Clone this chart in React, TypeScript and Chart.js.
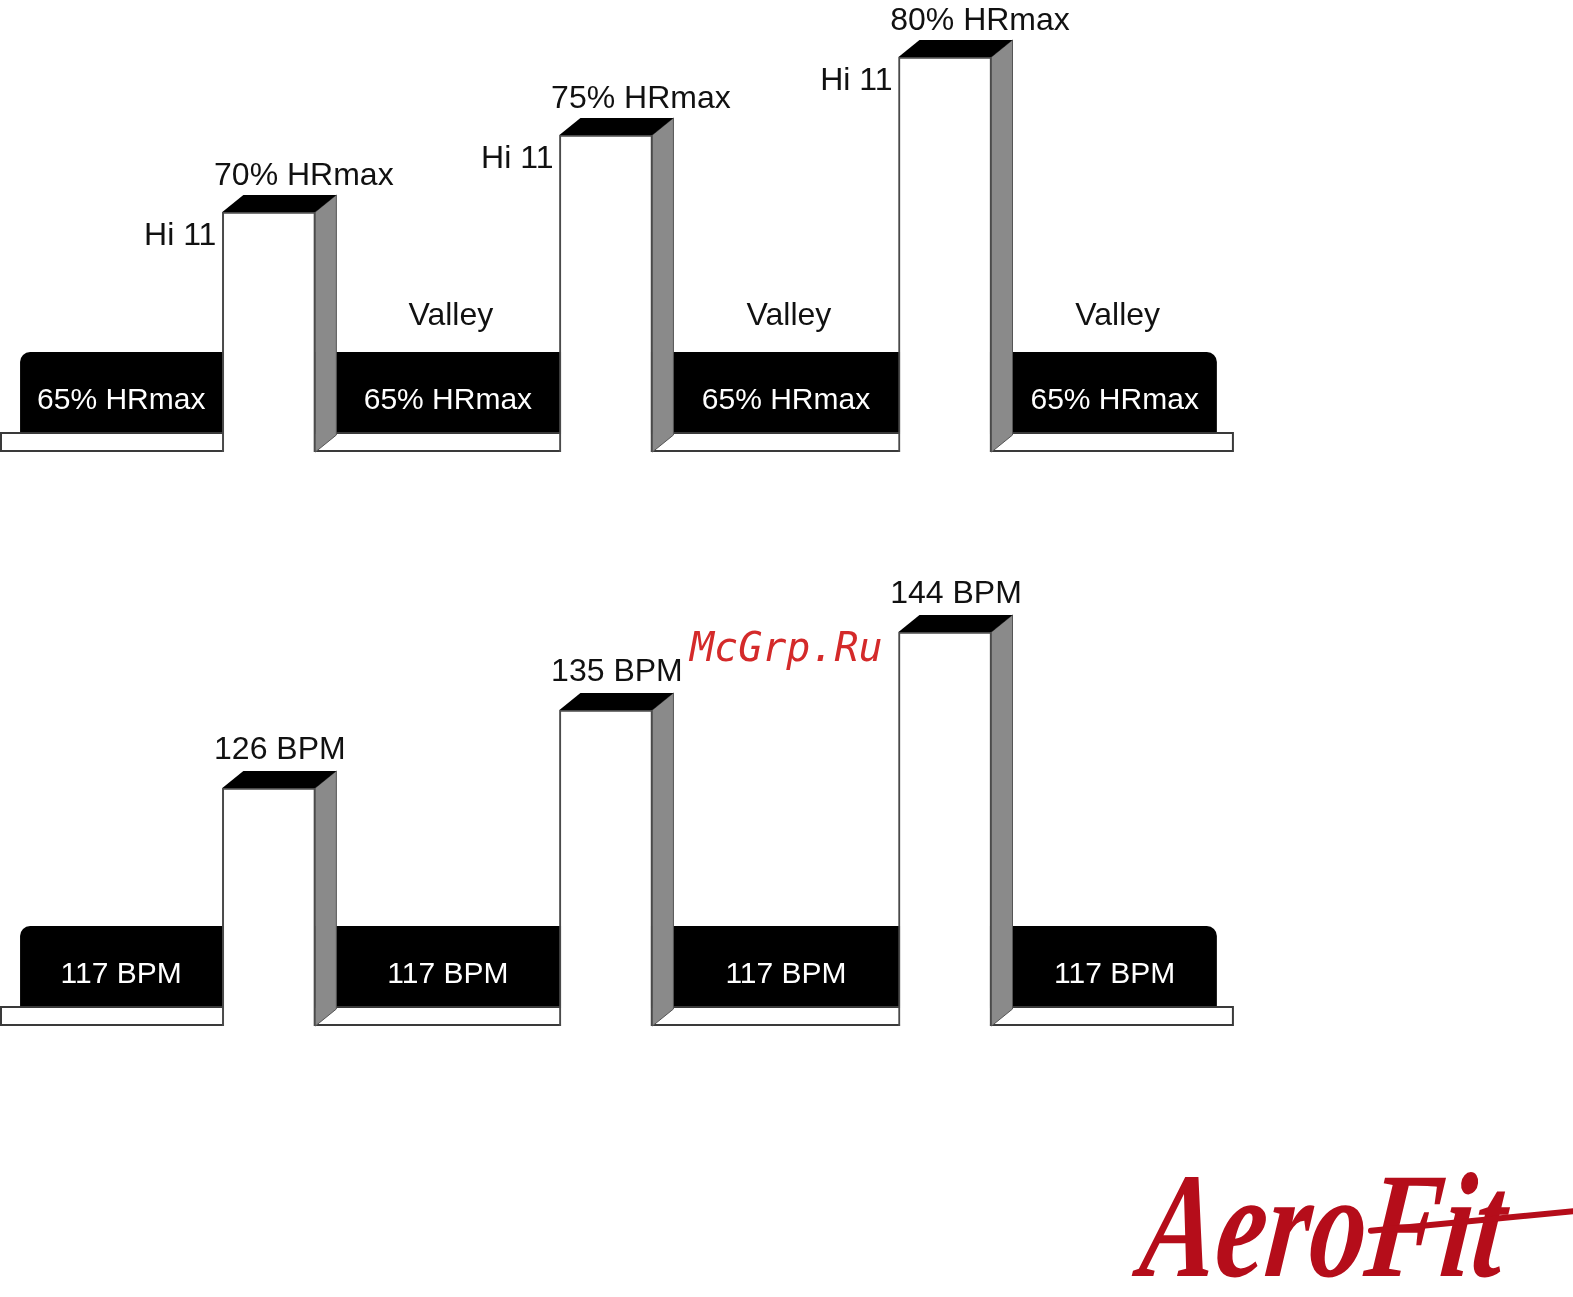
import React, { useEffect, useRef } from 'react';
import { Chart, registerables } from 'chart.js';

Chart.register(...registerables);

// ---- data (x in timeline units, y in intensity-level units) ----
const peakCenters = [268, 604, 942];
const valleyFrom = [20, 300, 636, 975];
const valleyTo = [245, 580, 918, 1213];
const plateFrom = 1;
const plateTo = 1229;
const plateLevel = 20;
const valleyLevel = 100;

const topPeakLevels = [240, 317, 395];
const topPeakLabels = ['70% HRmax', '75% HRmax', '80% HRmax'];
const topSideLabels = ['Hi 11', 'Hi 11', 'Hi 11'];
const topValleyTitles = ['', 'Valley', 'Valley', 'Valley'];
const topValleyLabels = ['65% HRmax', '65% HRmax', '65% HRmax', '65% HRmax'];

const bottomPeakLevels = [238, 316, 394];
const bottomPeakLabels = ['126 BPM', '135 BPM', '144 BPM'];
const bottomSideLabels = ['', '', ''];
const bottomValleyTitles = ['', '', '', ''];
const bottomValleyLabels = ['117 BPM', '117 BPM', '117 BPM', '117 BPM'];

type PanelCfg = {
  peakLevels: number[];
  peakLabels: string[];
  sideLabels: string[];
  valleyTitles: string[];
  valleyLabels: string[];
  peakLabelShift: number;
  peakLabelGap: number;
};

const DX = 21;
const DY = 17;
const FONT_BLACK = '32px "Liberation Sans", Arial, sans-serif';
const FONT_WHITE = '30px "Liberation Sans", Arial, sans-serif';

function makePlugin(cfg: PanelCfg) {
  const barBoxes = (chart: any) =>
    chart.getDatasetMeta(0).data.map((el: any) => {
      const p = el.getProps(['x', 'y', 'base', 'width'], true);
      return { left: p.x - p.width / 2, right: p.x + p.width / 2, top: p.y, base: p.base, cx: p.x };
    });
  return {
    id: 'panel3d',
    beforeDatasetsDraw(chart: any) {
      const { ctx, scales } = chart;
      const x = scales.x, y = scales.y;
      const p0 = x.getPixelForValue(plateFrom);
      const p1 = x.getPixelForValue(plateTo);
      const yb = y.getPixelForValue(0);
      const yt = y.getPixelForValue(plateLevel);
      const yv = y.getPixelForValue(valleyLevel);
      ctx.save();
      ctx.fillStyle = '#ffffff';
      ctx.fillRect(p0, yt, p1 - p0, yb - yt);
      ctx.strokeStyle = '#3a3a3a';
      ctx.lineWidth = 2;
      ctx.strokeRect(p0, yt + 1, p1 - p0, yb - yt - 2);
      ctx.fillStyle = '#000000';
      for (let i = 0; i < valleyFrom.length; i++) {
        const l = x.getPixelForValue(valleyFrom[i]);
        const r = x.getPixelForValue(valleyTo[i]);
        ctx.beginPath();
        ctx.roundRect(l, yv, r - l, yt - yv, [10, 10, 0, 0]);
        ctx.fill();
      }
      ctx.restore();
    },
    afterDatasetsDraw(chart: any) {
      const { ctx, scales } = chart;
      const x = scales.x, y = scales.y;
      const bars = barBoxes(chart);
      ctx.save();
      bars.forEach((b: any, i: number) => {
        // side face
        ctx.beginPath();
        ctx.moveTo(b.right, b.top);
        ctx.lineTo(b.right + DX, b.top - DY);
        ctx.lineTo(b.right + DX, b.base - DY);
        ctx.lineTo(b.right, b.base);
        ctx.closePath();
        ctx.fillStyle = '#8a8a8a';
        ctx.fill();
        ctx.strokeStyle = '#555';
        ctx.lineWidth = 1;
        ctx.stroke();
        // top face
        ctx.beginPath();
        ctx.moveTo(b.left, b.top);
        ctx.lineTo(b.left + DX, b.top - DY);
        ctx.lineTo(b.right + DX, b.top - DY);
        ctx.lineTo(b.right, b.top);
        ctx.closePath();
        ctx.fillStyle = '#000';
        ctx.fill();
        // labels
        ctx.fillStyle = '#111';
        ctx.font = FONT_BLACK;
        ctx.textBaseline = 'alphabetic';
        ctx.textAlign = 'center';
        ctx.fillText(cfg.peakLabels[i], b.cx + cfg.peakLabelShift, b.top - DY - cfg.peakLabelGap);
        if (cfg.sideLabels[i]) {
          ctx.textAlign = 'right';
          ctx.fillText(cfg.sideLabels[i], b.left - 6, b.top + 33);
        }
      });
      const yt = y.getPixelForValue(plateLevel);
      const yv = y.getPixelForValue(valleyLevel);
      for (let i = 0; i < valleyFrom.length; i++) {
        let l = x.getPixelForValue(valleyFrom[i]);
        let r = x.getPixelForValue(valleyTo[i]);
        bars.forEach((b: any) => {
          if (b.left <= l && b.right + DX > l) l = b.right + DX;
          if (b.left < r && b.right + DX >= r) r = b.left;
        });
        const c = (l + r) / 2;
        ctx.textAlign = 'center';
        if (cfg.valleyTitles[i]) {
          ctx.fillStyle = '#111';
          ctx.font = FONT_BLACK;
          ctx.fillText(cfg.valleyTitles[i], c + 3, yv - 27);
        }
        ctx.fillStyle = '#fff';
        ctx.font = FONT_WHITE;
        ctx.fillText(cfg.valleyLabels[i], c, yt - 23);
      }
      ctx.restore();
    },
  };
}

function Panel({ cfg, top }: { cfg: PanelCfg; top: number }) {
  const ref = useRef<HTMLCanvasElement | null>(null);
  useEffect(() => {
    if (!ref.current) return;
    const chart = new Chart(ref.current, {
      type: 'bar',
      data: {
        datasets: [
          {
            data: peakCenters.map((c, i) => ({ x: c, y: cfg.peakLevels[i] })),
            backgroundColor: '#ffffff',
            borderColor: '#4a4a4a',
            borderWidth: 2,
            barThickness: 93,
          },
        ],
      },
      options: {
        animation: false,
        responsive: false,
        maintainAspectRatio: false,
        layout: { padding: { left: 0, right: 0, top: 0, bottom: 18 } },
        plugins: { legend: { display: false }, tooltip: { enabled: false } },
        scales: {
          x: { type: 'linear', min: 0, max: 1568, display: false, offset: false, grid: { offset: false } },
          y: { type: 'linear', min: 0, max: 452, display: false },
        },
      },
      plugins: [makePlugin(cfg)],
    } as any);
    return () => chart.destroy();
  }, [cfg]);
  return (
    <canvas
      ref={ref}
      width={1573}
      height={470}
      style={{ position: 'absolute', left: 0, top, width: 1573, height: 470 }}
    />
  );
}

const topCfg: PanelCfg = {
  peakLevels: topPeakLevels,
  peakLabels: topPeakLabels,
  sideLabels: topSideLabels,
  valleyTitles: topValleyTitles,
  valleyLabels: topValleyLabels,
  peakLabelShift: 35,
  peakLabelGap: 10,
};

const bottomCfg: PanelCfg = {
  peakLevels: bottomPeakLevels,
  peakLabels: bottomPeakLabels,
  sideLabels: bottomSideLabels,
  valleyTitles: bottomValleyTitles,
  valleyLabels: bottomValleyLabels,
  peakLabelShift: 11,
  peakLabelGap: 12,
};

export default function App() {
  return (
    <div
      style={{
        position: 'absolute',
        left: 0,
        top: 0,
        width: 1573,
        height: 1297,
        background: '#fff',
        overflow: 'hidden',
      }}
    >
      <Panel cfg={topCfg} top={0} />
      <Panel cfg={bottomCfg} top={574} />
      <div
        style={{
          position: 'absolute',
          left: 690,
          top: 627,
          font: 'italic 40px "DejaVu Sans Mono", monospace',
          lineHeight: '40px',
          color: '#d42a2a',
          whiteSpace: 'nowrap',
        }}
      >
        McGrp.Ru
      </div>
      <div
        style={{
          position: 'absolute',
          left: 1135,
          top: 1150,
          font: 'italic bold 150px "Liberation Serif", serif',
          lineHeight: '150px',
          color: '#b50d1a',
          whiteSpace: 'nowrap',
          transform: 'scaleX(0.75) skewX(-8deg)',
          transformOrigin: 'left bottom',
        }}
      >
        AeroFit
      </div>
      <div
        style={{
          position: 'absolute',
          left: 1368,
          top: 1228,
          width: 210,
          height: 6,
          background: '#b50d1a',
          borderRadius: 3,
          transform: 'rotate(-5.5deg)',
          transformOrigin: 'left center',
        }}
      />
    </div>
  );
}
